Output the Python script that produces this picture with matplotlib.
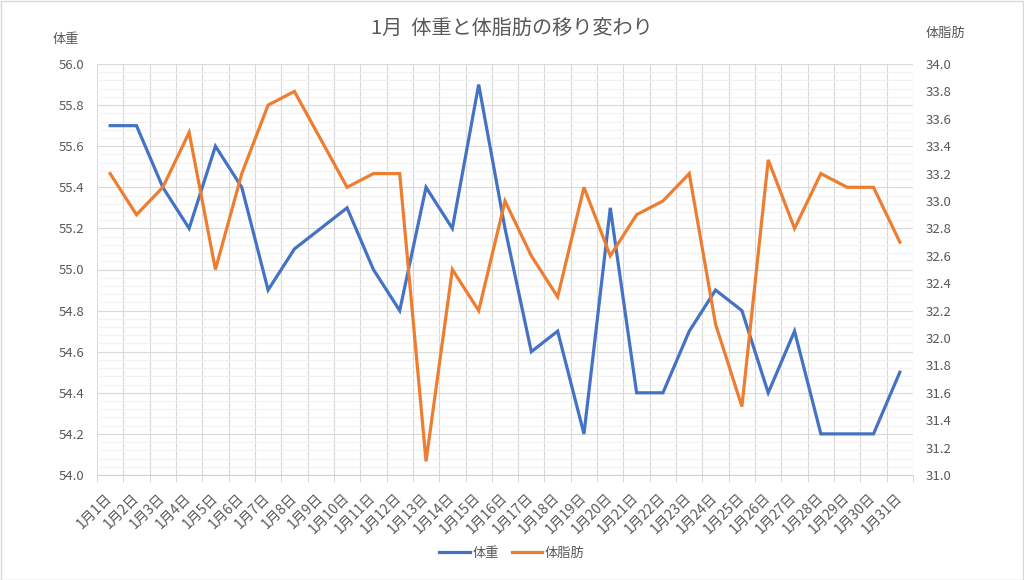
import matplotlib
matplotlib.use("Agg")
import matplotlib.pyplot as plt
import numpy as np
from matplotlib.patches import Rectangle
from matplotlib.lines import Line2D

plt.rcParams['font.family'] = ['Noto Sans CJK JP', 'DejaVu Sans']

categories = [f"1月{d}日" for d in range(1, 32)]
weight = [55.7, 55.7, 55.4, 55.2, 55.6, 55.4, 54.9, 55.1, 55.2, 55.3,
          55.0, 54.8, 55.4, 55.2, 55.9, 55.2, 54.6, 54.7, 54.2, 55.3,
          54.4, 54.4, 54.7, 54.9, 54.8, 54.4, 54.7, 54.2, 54.2, 54.2, 54.5]
bodyfat = [33.2, 32.9, 33.1, 33.5, 32.5, 33.2, 33.7, 33.8, 33.45, 33.1,
           33.2, 33.2, 31.1, 32.5, 32.2, 33.0, 32.6, 32.3, 33.1, 32.6,
           32.9, 33.0, 33.2, 32.1, 31.5, 33.3, 32.8, 33.2, 33.1, 33.1, 32.7]
title = "1月  体重と体脂肪の移り変わり"
left_label = "体重"
right_label = "体脂肪"

blue = '#4472C4'
orange = '#ED7D31'
txt = '#595959'
W, H = 1024, 580

fig = plt.figure(figsize=(W / 100, H / 100), dpi=100)
fig.patch.set_facecolor('white')
ax = fig.add_axes([97 / W, 1 - 475 / H, (913 - 97) / W, (475 - 64) / H])
ax2 = ax.twinx()

x = np.arange(len(categories))
ax.set_xlim(-0.5, len(categories) - 0.5)
ax.set_ylim(54.0, 56.0)
ax2.set_ylim(31.0, 34.0)

# grid
ax.set_yticks(np.arange(54.0, 56.001, 0.2))
ax.set_yticks(np.arange(54.0, 56.001, 0.04), minor=True)
ax.set_xticks(x)
ax.set_xticks(np.arange(-0.5, len(categories), 1.0), minor=True)
ax.grid(which='minor', axis='y', color='#f2f2f2', linewidth=0.8)
ax.grid(which='major', axis='y', color='#d9d9d9', linewidth=0.8)
ax.grid(which='minor', axis='x', color='#d9d9d9', linewidth=0.8)
ax.set_axisbelow(True)

ax.plot(x, weight, color=blue, linewidth=2.3, solid_joinstyle='miter', zorder=3)
ax2.plot(x, bodyfat, color=orange, linewidth=2.3, solid_joinstyle='miter', zorder=3)

for a in (ax, ax2):
    for s in ['top', 'left', 'right']:
        a.spines[s].set_visible(False)
    a.spines['bottom'].set_color('#d0d0d0')
ax2.spines['bottom'].set_visible(False)

ax.set_yticklabels([f"{v:.1f}" for v in np.arange(54.0, 56.001, 0.2)])
ax.tick_params(axis='y', which='both', length=0, pad=9, labelsize=9.5, labelcolor=txt)
ax2.set_yticks(np.arange(31.0, 34.001, 0.2))
ax2.set_yticklabels([f"{v:.1f}" for v in np.arange(31.0, 34.001, 0.2)])
ax2.tick_params(axis='y', which='both', length=0, pad=9, labelsize=9.5, labelcolor=txt)

ax.set_xticklabels(categories, rotation=45, ha='right', va='center', rotation_mode='anchor')
ax.tick_params(axis='x', which='major', length=0, pad=15, labelsize=10, labelcolor=txt)
ax.tick_params(axis='x', which='minor', length=5, color='#d0d0d0', direction='out')

fig.text(0.5, 1 - 28 / H, title, ha='center', va='center', fontsize=14.5, color=txt)
fig.text(66 / W, 1 - 40 / H, left_label, ha='center', va='center', fontsize=9.5, color=txt)
fig.text(945 / W, 1 - 33 / H, right_label, ha='center', va='center', fontsize=9.5, color=txt)

handles = [Line2D([0], [0], color=blue, linewidth=2.3),
           Line2D([0], [0], color=orange, linewidth=2.3)]
leg = fig.legend(handles, [left_label, right_label], loc='center',
                 bbox_to_anchor=(0.5, 1 - 553 / H), ncol=2, frameon=False,
                 fontsize=9.5, handlelength=2.3, handletextpad=0.2, columnspacing=1.0)
for t in leg.get_texts():
    t.set_color(txt)

fig.patches.append(Rectangle((0.5 / W, 0.5 / H), 1 - 1.5 / W, 1 - 1.5 / H,
                             transform=fig.transFigure, fill=False,
                             edgecolor='#d9d9d9', linewidth=1))

fig.savefig('out.png', dpi=100)
